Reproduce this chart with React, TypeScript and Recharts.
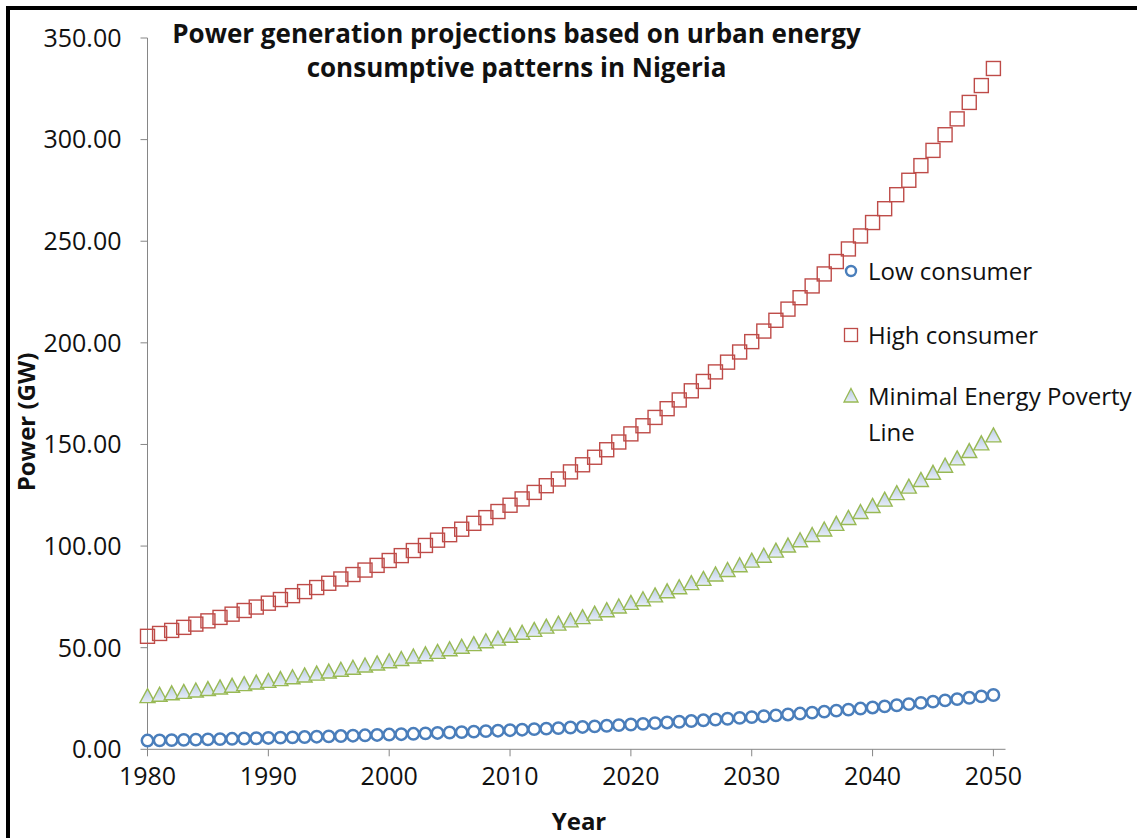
import React from 'react'
import { ScatterChart, Scatter, XAxis, YAxis } from 'recharts'

const years = [
  1980, 1981, 1982, 1983, 1984, 1985, 1986, 1987, 1988, 1989,
  1990, 1991, 1992, 1993, 1994, 1995, 1996, 1997, 1998, 1999,
  2000, 2001, 2002, 2003, 2004, 2005, 2006, 2007, 2008, 2009,
  2010, 2011, 2012, 2013, 2014, 2015, 2016, 2017, 2018, 2019,
  2020, 2021, 2022, 2023, 2024, 2025, 2026, 2027, 2028, 2029,
  2030, 2031, 2032, 2033, 2034, 2035, 2036, 2037, 2038, 2039,
  2040, 2041, 2042, 2043, 2044, 2045, 2046, 2047, 2048, 2049,
  2050,
]

// GW per year
const lowConsumer = [
  4.30, 4.41, 4.53, 4.65, 4.77, 4.90, 5.03, 5.16, 5.30, 5.44,
  5.58, 5.73, 5.88, 6.04, 6.20, 6.36, 6.53, 6.70, 6.88, 7.06,
  7.25, 7.44, 7.63, 7.84, 8.04, 8.26, 8.47, 8.70, 8.93, 9.16,
  9.41, 9.65, 9.91, 10.17, 10.44, 10.72, 11.00, 11.29, 11.59, 11.90,
  12.21, 12.53, 12.86, 13.20, 13.55, 13.91, 14.28, 14.66, 15.04, 15.44,
  15.85, 16.27, 16.70, 17.14, 17.59, 18.06, 18.54, 19.03, 19.53, 20.05,
  20.58, 21.12, 21.68, 22.25, 22.84, 23.44, 24.06, 24.70, 25.35, 26.02,
  26.71,
]

const highConsumer = [
  55.6, 57.0, 58.5, 60.0, 61.6, 63.2, 64.9, 66.5, 68.3, 70.0,
  71.9, 73.7, 75.6, 77.6, 79.6, 81.7, 83.8, 86.0, 88.2, 90.5,
  92.9, 95.3, 97.8, 100.3, 102.9, 105.6, 108.3, 111.2, 114.0, 117.0,
  120.1, 123.2, 126.4, 129.7, 133.0, 136.5, 140.0, 143.7, 147.4, 151.2,
  155.2, 159.2, 163.3, 167.6, 171.9, 176.4, 181.0, 185.7, 190.5, 195.5,
  200.6, 205.8, 211.1, 216.6, 222.2, 228.0, 233.9, 240.0, 246.2, 252.6,
  259.2, 266.0, 272.9, 280.0, 287.2, 294.7, 302.4, 310.2, 318.3, 326.6,
  335.0,
]

const povertyLine = [
  25.9, 26.6, 27.3, 28.0, 28.7, 29.4, 30.2, 31.0, 31.8, 32.6,
  33.4, 34.3, 35.2, 36.1, 37.0, 38.0, 38.9, 39.9, 41.0, 42.0,
  43.1, 44.2, 45.4, 46.5, 47.7, 49.0, 50.2, 51.5, 52.9, 54.2,
  55.6, 57.1, 58.5, 60.1, 61.6, 63.2, 64.8, 66.5, 68.2, 70.0,
  71.8, 73.6, 75.5, 77.5, 79.5, 81.5, 83.6, 85.8, 88.0, 90.3,
  92.6, 95.0, 97.5, 100.0, 102.6, 105.2, 107.9, 110.7, 113.6, 116.5,
  119.5, 122.6, 125.8, 129.0, 132.3, 135.8, 139.3, 142.9, 146.5, 150.3,
  154.2,
]

const yearTicks = [1980, 1990, 2000, 2010, 2020, 2030, 2040, 2050]
const powerTicks = [0, 50, 100, 150, 200, 250, 300, 350]

const FONT = '"Open Sans", sans-serif'
const AXIS = '#868686'

const toPoints = (vals: number[]) => years.map((year, i) => ({ year, value: vals[i] }))

const CircleMark = (p: any) => (
  <circle cx={p.cx} cy={p.cy} r={5.7} fill="#fff" stroke="#4A7EBB" strokeWidth={2.5} />
)
const SquareMark = (p: any) => (
  <rect x={p.cx - 7} y={p.cy - 7} width={14} height={14} fill="none" stroke="#BE4B48" strokeWidth={1.4} />
)
const TriangleMark = (p: any) => (
  <path
    d={`M${p.cx},${p.cy - 8} L${p.cx + 7.5},${p.cy + 6} L${p.cx - 7.5},${p.cy + 6} Z`}
    fill="url(#triFill)"
    stroke="#98B954"
    strokeWidth={1.4}
  />
)

const legendRows = [
  { key: 'low', lines: ['Low consumer'], mark: <circle cx={9} cy={9} r={5} fill="#fff" stroke="#4A7EBB" strokeWidth={2.4} /> },
  { key: 'high', lines: ['High consumer'], mark: <rect x={2.5} y={2.5} width={13} height={13} fill="none" stroke="#BE4B48" strokeWidth={1.3} /> },
  { key: 'pov', lines: ['Minimal Energy Poverty', 'Line'], mark: <path d="M9,1.5 L16,15 L2,15 Z" fill="url(#triFill)" stroke="#98B954" strokeWidth={1.3} /> },
]

function LegendBox() {
  return (
    <div style={{ position: 'absolute', left: 840, top: 253, width: 297, fontFamily: FONT, fontSize: 24, color: '#111' }}>
      {legendRows.map((r, i) => (
        <div key={r.key} style={{ position: 'relative', paddingLeft: 28, marginBottom: i === 0 ? 28 : 25, lineHeight: '36px' }}>
          <svg width={18} height={18} style={{ position: 'absolute', left: 2, top: 9 }}>{r.mark}</svg>
          {r.lines.map((t) => (
            <div key={t} style={{ whiteSpace: 'nowrap' }}>{t}</div>
          ))}
        </div>
      ))}
    </div>
  )
}

export default function App() {
  return (
    <div style={{ position: 'absolute', left: 0, top: 0, width: 1137, height: 838, background: '#fff', overflow: 'hidden' }}>
      <svg width={0} height={0} style={{ position: 'absolute' }}>
        <defs>
          <linearGradient id="triFill" x1="0" y1="0" x2="0" y2="1">
            <stop offset="0%" stopColor="#B9CCE6" />
            <stop offset="100%" stopColor="#E6EDF6" />
          </linearGradient>
        </defs>
      </svg>
      {/* frame edge, top and left only */}
      <div style={{ position: 'absolute', left: 6, top: 6, width: 1131, height: 832, borderTop: '4px solid #000', borderLeft: '4px solid #000' }} />
      <ScatterChart width={1137} height={838} margin={{ top: 38, right: 131.5, bottom: 28.7, left: 47.5 }}>
        <XAxis
          type="number"
          dataKey="year"
          domain={[1980, 2051]}
          ticks={yearTicks}
          height={60}
          tickSize={7}
          tickMargin={11}
          axisLine={{ stroke: AXIS }}
          tickLine={{ stroke: AXIS }}
          tick={{ fill: '#111', fontSize: 25, fontFamily: FONT }}
        />
        <YAxis
          type="number"
          dataKey="value"
          domain={[0, 350]}
          ticks={powerTicks}
          width={100}
          tickSize={7}
          tickMargin={19}
          tickFormatter={(v: number) => v.toFixed(2)}
          axisLine={{ stroke: AXIS }}
          tickLine={{ stroke: AXIS }}
          tick={{ fill: '#111', fontSize: 25, fontFamily: FONT }}
        />
        <Scatter name="Low consumer" data={toPoints(lowConsumer)} shape={CircleMark} isAnimationActive={false} />
        <Scatter name="High consumer" data={toPoints(highConsumer)} shape={SquareMark} isAnimationActive={false} />
        <Scatter name="Minimal Energy Poverty Line" data={toPoints(povertyLine)} shape={TriangleMark} isAnimationActive={false} />
      </ScatterChart>
      <LegendBox />
      <div style={{ position: 'absolute', left: 116.5, top: 16, width: 800, textAlign: 'center', fontFamily: FONT, fontWeight: 700, fontSize: 26, lineHeight: '34px', color: '#111' }}>
        Power generation projections based on urban energy<br />consumptive patterns in Nigeria
      </div>
      <div style={{ position: 'absolute', left: -124, top: 407, width: 300, height: 30, textAlign: 'center', fontFamily: FONT, fontWeight: 700, fontSize: 24, lineHeight: '30px', color: '#111', transform: 'rotate(-90deg)' }}>
        Power (GW)
      </div>
      <div style={{ position: 'absolute', left: 479, top: 806, width: 200, textAlign: 'center', fontFamily: FONT, fontWeight: 700, fontSize: 24, lineHeight: '30px', color: '#111' }}>
        Year
      </div>
    </div>
  )
}
